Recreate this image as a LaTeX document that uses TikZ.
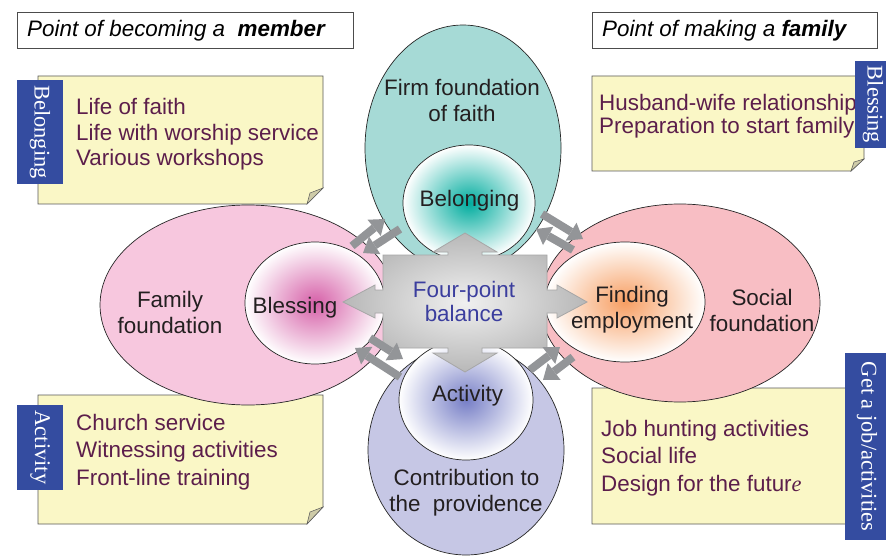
\documentclass[tikz,border=0pt]{standalone}
\usepackage{fontspec}
\setmainfont{Liberation Sans}
\newfontfamily\tabfont{Liberation Serif}
\usetikzlibrary{shapes.geometric,arrows.meta}
\definecolor{tealA}{RGB}{166,218,214}
\definecolor{pinkL}{RGB}{247,199,222}
\definecolor{pinkR}{RGB}{248,190,196}
\definecolor{lavA}{RGB}{198,199,229}
\definecolor{noteY}{RGB}{250,247,198}
\definecolor{foldC}{RGB}{206,203,168}
\definecolor{tabB}{RGB}{52,76,160}
\definecolor{noteT}{RGB}{92,30,75}
\definecolor{darkT}{RGB}{35,31,32}
\definecolor{balT}{RGB}{59,62,158}
\definecolor{arrG}{RGB}{147,149,152}
\definecolor{gTeal}{RGB}{0,172,158}
\definecolor{gMag}{RGB}{214,96,168}
\definecolor{gOra}{RGB}{247,158,98}
\definecolor{gBlu}{RGB}{118,126,198}
\begin{document}
\begin{tikzpicture}[x=1pt,y=-1pt,
  outerell/.style={ellipse, draw=black!85, line width=0.7pt, inner sep=0pt},
  innerell/.style={ellipse, draw=black!85, line width=0.7pt, inner sep=0pt, outer color=white, inner color=#1},
  lbl/.style={font=\fontsize{22.4}{26}\selectfont, text=darkT, anchor=base, inner sep=0pt},
  notetxt/.style={font=\fontsize{22.4}{26}\selectfont, text=noteT, anchor=base west, inner sep=0pt},
  hdrtxt/.style={font=\fontsize{22.4}{26}\selectfont\itshape, text=black, anchor=base west, inner sep=0pt},
  notebox/.style={fill=noteY, draw=black!65, line width=0.7pt},
  foldbox/.style={fill=foldC, draw=black!65, line width=0.5pt},
  tabbox/.style={fill=tabB},
  tabtxt/.style={font=\tabfont\fontsize{22.4}{26}\selectfont, text=white, rotate=-90, inner sep=0pt},
  hdrbox/.style={draw=black!70, line width=0.8pt, fill=white},
  dblarrow/.style={draw=arrG, line width=8pt, -{Triangle[length=14pt,width=21pt,line width=0pt]}}
]
\useasboundingbox (0,0) rectangle (886,556);
\clip (0,0) rectangle (886,556);
\fill[white] (0,0) rectangle (886,556);

% header boxes
\draw[hdrbox] (17,12) rectangle (353,48);
\node[hdrtxt] (hdrA) at (27,37) {Point of becoming a\ \ {\bfseries member}};
\draw[hdrbox] (592,12) rectangle (877,48);
\node[hdrtxt] (hdrB) at (602,37) {Point of making a {\bfseries family}};

% notes
\draw[notebox] (38,76) -- (323,76) -- (323,188) -- (307,204) -- (38,204) -- cycle;
\draw[foldbox] (307,204) -- (310,193) -- (323,188) -- cycle;
\fill[tabbox] (17,80) rectangle (63,184);
\node[tabtxt] (tabA) at (40,132) {Belonging};
\node[notetxt] (nA1) at (76,115) {Life of faith};
\node[notetxt] (nA2) at (76,140.5) {Life with worship service};
\node[notetxt] (nA3) at (76,166) {Various workshops};

\draw[notebox] (592,76) -- (864,76) -- (864,159) -- (851,171) -- (592,171) -- cycle;
\draw[foldbox] (851,171) -- (854,162) -- (864,159) -- cycle;
\node[notetxt] (nB1) at (599,111) {Husband-wife relationship};
\node[notetxt] (nB2) at (599,133.5) {Preparation to start family};
\fill[tabbox] (855,61) rectangle (901,148);
\node[tabtxt] (tabB) at (873,104.5) {Blessing};

\draw[notebox] (38,395) -- (323,395) -- (323,507) -- (307,524) -- (38,524) -- cycle;
\draw[foldbox] (307,524) -- (310,512) -- (323,507) -- cycle;
\fill[tabbox] (17,405) rectangle (63,490);
\node[tabtxt] (tabC) at (40,447.5) {Activity};
\node[notetxt] (nC1) at (76,430) {Church service};
\node[notetxt] (nC2) at (76,457.5) {Witnessing activities};
\node[notetxt] (nC3) at (76,485) {Front-line training};

\draw[notebox] (592,388) -- (858,388) -- (858,512) -- (848,524) -- (592,524) -- cycle;
\node[notetxt] (nD1) at (601,436) {Job hunting activities};
\node[notetxt] (nD2) at (601,463.5) {Social life};
\node[notetxt] (nD3) at (601,491) {Design for the futur{\tabfont\itshape e}};
\fill[tabbox] (845,353) rectangle (889,540);
\node[tabtxt] (tabD) at (867,446.5) {Get a job/activities};

% outer ellipses
\node[outerell, fill=tealA, minimum width=196pt, minimum height=246pt] (faith) at (463,148) {};
\node[outerell, fill=lavA, minimum width=196pt, minimum height=210pt] (provid) at (466,450) {};
\node[outerell, fill=pinkL, minimum width=296pt, minimum height=200pt] (family) at (248,305) {};
\node[outerell, fill=pinkR, minimum width=280pt, minimum height=198pt] (social) at (680,303) {};

% inner circles
\node[innerell=gTeal, minimum width=132pt, minimum height=116pt] (belong) at (469,203) {};
\node[innerell=gMag, minimum width=140pt, minimum height=122pt] (bless) at (315,303) {};
\node[innerell=gOra, minimum width=160pt, minimum height=120pt] (finding) at (625,302) {};
\node[innerell=gBlu, minimum width=134pt, minimum height=120pt] (activ) at (466,400) {};

% labels
\node[lbl] (tFaith1) at (462,95.5) {Firm foundation};
\node[lbl] (tFaith2) at (462,121.5) {of faith};
\node[lbl] (tBelong) at (469.5,207) {Belonging};
\node[lbl] (tFam1) at (170,307) {Family};
\node[lbl] (tFam2) at (170,333) {foundation};
\node[lbl] (tBless) at (295,313) {Blessing};
\node[lbl] (tFind1) at (632,302) {Finding};
\node[lbl] (tFind2) at (632,328) {employment};
\node[lbl] (tSoc1) at (762,305) {Social};
\node[lbl] (tSoc2) at (762,331) {foundation};
\node[lbl] (tAct) at (467.5,401) {Activity};
\node[lbl] (tCon1) at (466.5,485) {Contribution to};
\node[lbl] (tCon2) at (466,511) {the\ \ providence};

% central four-way arrow
\shade[draw=black!35, line width=0.8pt, inner color=black!6, outer color=black!28]
  (383,255) -- (448,255) -- (448,252) -- (433,252) -- (465,233) -- (497,252) -- (482,252) -- (482,255)
  -- (547,255) -- (547,290) -- (557,290) -- (557,285) -- (587,302) -- (557,318) -- (557,313) -- (547,313)
  -- (547,348) -- (482,348) -- (482,353) -- (497,353) -- (465,372) -- (433,353) -- (448,353) -- (448,348)
  -- (383,348) -- (383,313) -- (375,313) -- (375,318) -- (343,302) -- (375,285) -- (375,290) -- (383,290) -- cycle;
\node[lbl, text=balT] (tBal1) at (464,297) {Four-point};
\node[lbl, text=balT] (tBal2) at (464,321) {balance};

% gray double arrows
\coordinate (tl1a) at (352,246); \coordinate (tl1b) at (385,219);
\coordinate (tl2a) at (400,229); \coordinate (tl2b) at (363,253);
\coordinate (tr1a) at (542,214); \coordinate (tr1b) at (583,239);
\coordinate (tr2a) at (573,250); \coordinate (tr2b) at (536,229);
\coordinate (bl1a) at (370,338); \coordinate (bl1b) at (403,359);
\coordinate (bl2a) at (400,377); \coordinate (bl2b) at (355,348);
\coordinate (br1a) at (530,370); \coordinate (br1b) at (560,347);
\coordinate (br2a) at (573,357); \coordinate (br2b) at (543,380);
\draw[dblarrow] (tl1a) -- (tl1b);
\draw[dblarrow] (tl2a) -- (tl2b);
\draw[dblarrow] (tr1a) -- (tr1b);
\draw[dblarrow] (tr2a) -- (tr2b);
\draw[dblarrow] (bl1a) -- (bl1b);
\draw[dblarrow] (bl2a) -- (bl2b);
\draw[dblarrow] (br1a) -- (br1b);
\draw[dblarrow] (br2a) -- (br2b);
\end{tikzpicture}
\end{document}
